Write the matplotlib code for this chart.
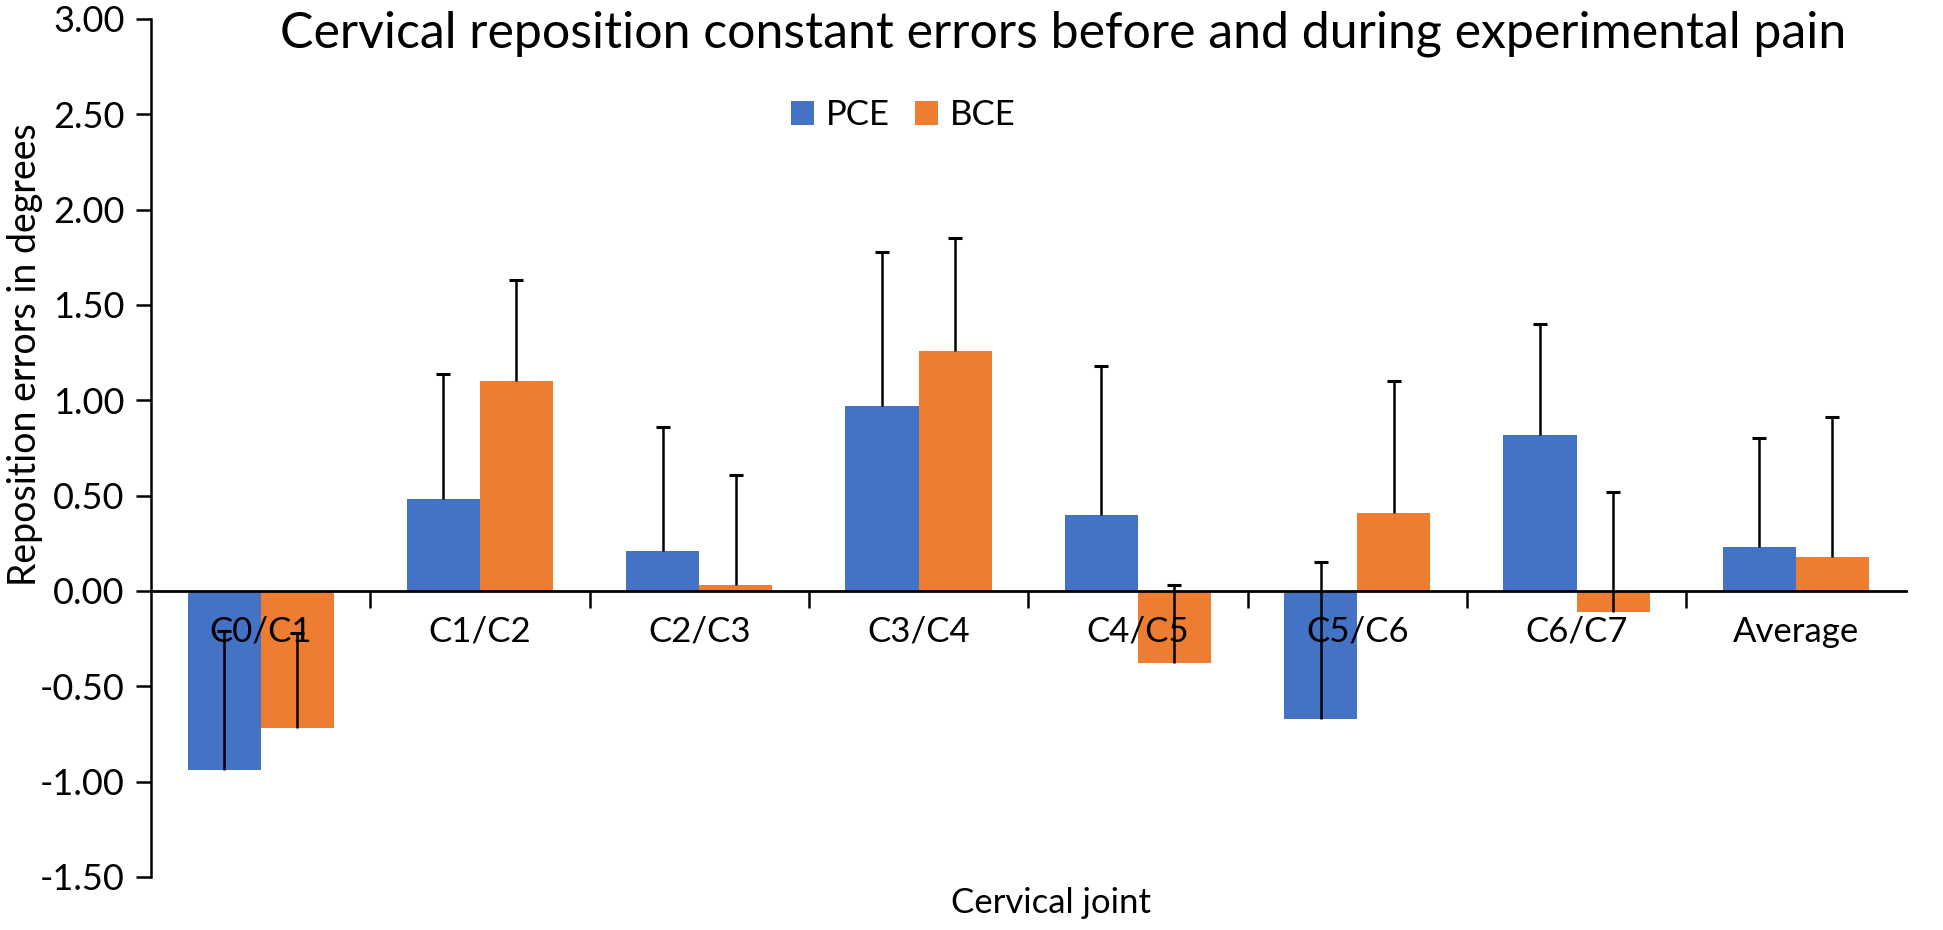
import numpy as np
import matplotlib
matplotlib.use("Agg")
import matplotlib.pyplot as plt

plt.rcParams['font.family'] = ['Lato', 'DejaVu Sans']

# data
joints = ["C0/C1", "C1/C2", "C2/C3", "C3/C4", "C4/C5", "C5/C6", "C6/C7", "Average"]
pce = [-0.94, 0.48, 0.21, 0.97, 0.40, -0.67, 0.82, 0.23]
bce = [-0.72, 1.10, 0.03, 1.26, -0.38, 0.41, -0.11, 0.18]
pce_err = [0.73, 0.66, 0.65, 0.81, 0.78, 0.82, 0.58, 0.57]
bce_err = [0.50, 0.53, 0.58, 0.59, 0.41, 0.69, 0.63, 0.73]
yticks = [-1.5, -1.0, -0.5, 0.0, 0.5, 1.0, 1.5, 2.0, 2.5, 3.0]

blue = "#4472C4"
orange = "#ED7D31"

fig = plt.figure(figsize=(19.43, 9.30), dpi=100)
ax = fig.add_axes([0.0777, 0.057, 0.903, 0.9226])

x = np.arange(len(joints))
w = 1 / 3.0
ax.bar(x - w / 2, pce, w, color=blue, label="PCE", zorder=1)
ax.bar(x + w / 2, bce, w, color=orange, label="BCE", zorder=1)

# plus-only error bars, cap only at the far end
for xs, vals, errs in [(x - w / 2, pce, pce_err), (x + w / 2, bce, bce_err)]:
    vals = np.array(vals)
    errs = np.array(errs)
    ax.errorbar(xs, vals, yerr=[np.zeros(len(vals)), errs], fmt="none",
                ecolor="black", elinewidth=1.8, capsize=0, zorder=4)
    ax.plot(xs, vals + errs, ls="none", marker="_", ms=10, mew=2.2,
            color="black", zorder=4)

ax.set_xlim(-0.5, len(joints) - 0.5)
ax.set_ylim(-1.5, 3.0)
ax.set_yticks(yticks)
ax.set_yticklabels(["%.2f" % v for v in yticks], fontsize=26)

ax.spines['top'].set_visible(False)
ax.spines['right'].set_visible(False)
ax.spines['bottom'].set_position(('data', 0))
ax.spines['bottom'].set_linewidth(2)
ax.spines['left'].set_linewidth(1.8)
ax.spines['bottom'].set_zorder(3)

ax.set_xticks(x)
ax.set_xticklabels(joints, fontsize=25)
ax.set_xticks(np.arange(0.5, len(joints) - 1, 1.0), minor=True)
ax.tick_params(axis='x', which='major', length=0, pad=18)
ax.tick_params(axis='x', which='minor', length=12, width=1.8, direction='out')
ax.tick_params(axis='y', length=11, width=1.8, pad=8)

fig.text(0.541, 0.029, "Cervical joint", ha="center", va="center", fontsize=25)
fig.text(0.013, 0.619, "Reposition errors in degrees", rotation=90,
         ha="center", va="center", fontsize=27)

fig.text(0.547, 0.964, "Cervical reposition constant errors before and during experimental pain",
         ha="center", va="center", fontsize=36)

fig.legend(loc="center", bbox_to_anchor=(0.465, 0.876), ncol=2, frameon=False,
           fontsize=25, handlelength=0.66, handleheight=0.66, handletextpad=0.35,
           columnspacing=0.72)

fig.savefig("out.png", dpi=100)
